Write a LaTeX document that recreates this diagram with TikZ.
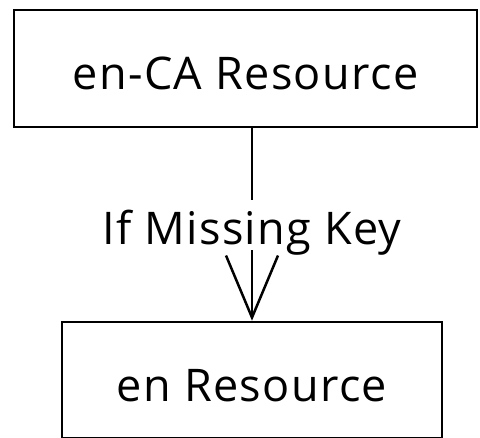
\documentclass[tikz,border=0pt]{standalone}
\usepackage{fontspec}
\setmainfont{Open Sans}[LetterSpace=3]
\usetikzlibrary{arrows.meta}

\begin{document}
\begin{tikzpicture}[x=1pt, y=-1pt,
    resbox/.style={draw, line width=2.5pt, inner sep=0pt, font=\fontsize{45}{54}\selectfont},
    keylabel/.style={inner sep=0pt, text height=45pt, text depth=5pt, font=\fontsize{45}{54}\selectfont},
    fallback/.style={line width=2.5pt, -{Straight Barb[length=62pt, width=52pt, line width=2.5pt]}}]
    \useasboundingbox (0,0) rectangle (480,438);
    \node[resbox, minimum width=463pt, minimum height=117pt, text height=42pt, text depth=0pt] (enca) at (245.5, 68.5) {en-CA Resource};
    \node[resbox, minimum width=380pt, minimum height=116pt, text height=44pt, text depth=0pt] (en) at (252, 380) {en Resource};
    \node[keylabel, anchor=base] (miss) at (252, 245) {If Missing Key};
    \draw[line width=2.5pt] (enca.south -| miss) -- (miss);
    \draw[fallback] (miss) -- (miss |- en.north);
\end{tikzpicture}
\end{document}
